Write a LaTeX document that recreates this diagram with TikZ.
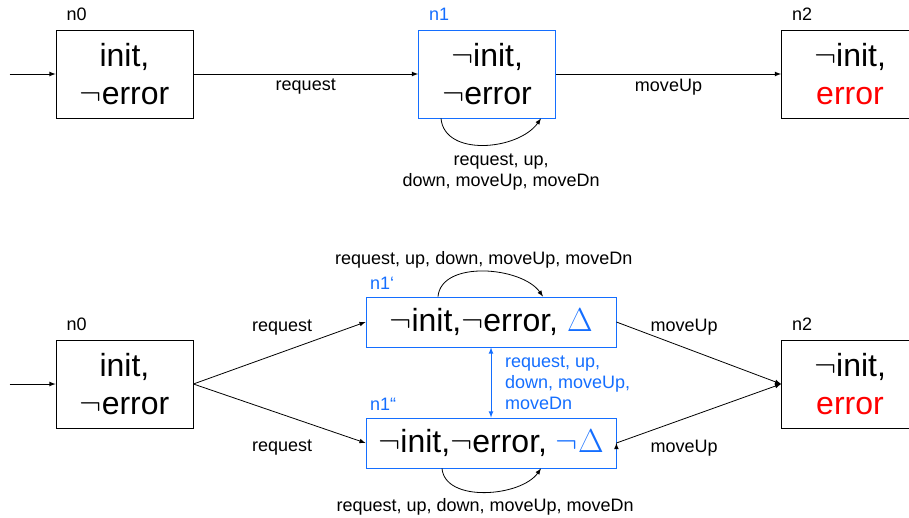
\documentclass[tikz,border=0pt]{standalone}
\usepackage{fontspec}
\setmainfont{Liberation Sans}
\usetikzlibrary{positioning, arrows}
\definecolor{deltablue}{RGB}{20,110,255}
\tikzset{
  ->,
  >=latex,
  every node/.style={font=\fontsize{13.5}{15.75}\selectfont},
  state/.style={draw, -, line width=0.6pt, minimum width=102.75pt, minimum height=66pt,
    inner sep=0pt, align=center, font=\fontsize{24}{28.5}\selectfont},
  long state/.style={state, minimum width=187.5pt, minimum height=37.5pt, draw=deltablue},
  tag/.style={anchor=south west, inner sep=0pt, xshift=8pt, yshift=6.5pt},
}

\begin{document}
\begin{tikzpicture}[x=0.75pt, y=-0.75pt, line width=0.6pt]
  \useasboundingbox (0,0) rectangle (909,517);

  % plain model
  \node[state, label={[tag]north west:n0}] (a0) at (124.5,74) {init,\\$\neg$error};
  \node[state, draw=deltablue, label={[tag, text=deltablue]north west:n1}] (a1) at (487,74)
    {$\neg$init,\\$\neg$error};
  \node[state, label={[tag]north west:n2}] (a2) at (850,74) {$\neg$init,\\\textcolor{red}{error}};
  \coordinate[left=34.5pt of a0] (a-in);

  \draw (a-in) -- (a0);
  \draw (a0) edge node[below]{request} (a1)
        (a1) edge node[below]{moveUp} (a2);
  \draw ([xshift=-34.5pt]a1.south) to[out=-85, in=-125]
    node[below=3pt, align=center, xshift=13pt]{request, up,\\down, moveUp, moveDn}
    ([xshift=40.5pt]a1.south);

  % refined model
  \node[state, label={[tag]north west:n0}] (b0) at (124.5,384) {init,\\$\neg$error};
  \node[long state, label={[tag, text=deltablue, xshift=-5pt, yshift=-1.5pt]north west:n1‘}] (b1) at (491,322)
    {$\neg$init,$\neg$error, \textcolor{deltablue}{$\Delta$}};
  \node[long state, label={[tag, text=deltablue, xshift=-5pt, yshift=-1.5pt]north west:n1“}] (b2) at (491,443)
    {$\neg$init,$\neg$error, \textcolor{deltablue}{$\neg\Delta$}};
  \node[state, label={[tag]north west:n2}] (b3) at (850,384) {$\neg$init,\\\textcolor{red}{error}};
  \coordinate[left=34.5pt of b0] (b-in);

  \draw (b-in) -- (b0);
  \draw (b0.east) edge node[midway, above=10pt, xshift=2pt]{request} (b1.west)
        (b0.east) edge node[midway, below=16.5pt, xshift=2pt]{request} (b2.west)
        (b1.east) edge node[midway, above=10pt, xshift=-11pt]{moveUp} (b3.west)
        (b2.east) edge node[midway, below=16.5pt, xshift=-11pt]{moveUp} (b3.west);
  \draw[<->, deltablue] (b1) -- node[right=7pt, align=left, text=deltablue]
    {request, up,\\down, moveUp,\\moveDn} (b2);

  \draw ([xshift=-39.75pt]b1.north) to[out=85, in=125, looseness=0.9]
    node[above=-1pt]{request, up, down, moveUp, moveDn}
    ([xshift=39pt]b1.north);
  \draw ([xshift=-36.75pt]b2.south) to[out=-85, in=-125, looseness=0.9]
    node[below=1.5pt]{request, up, down, moveUp, moveDn}
    ([xshift=37.5pt]b2.south);
\end{tikzpicture}
\end{document}
